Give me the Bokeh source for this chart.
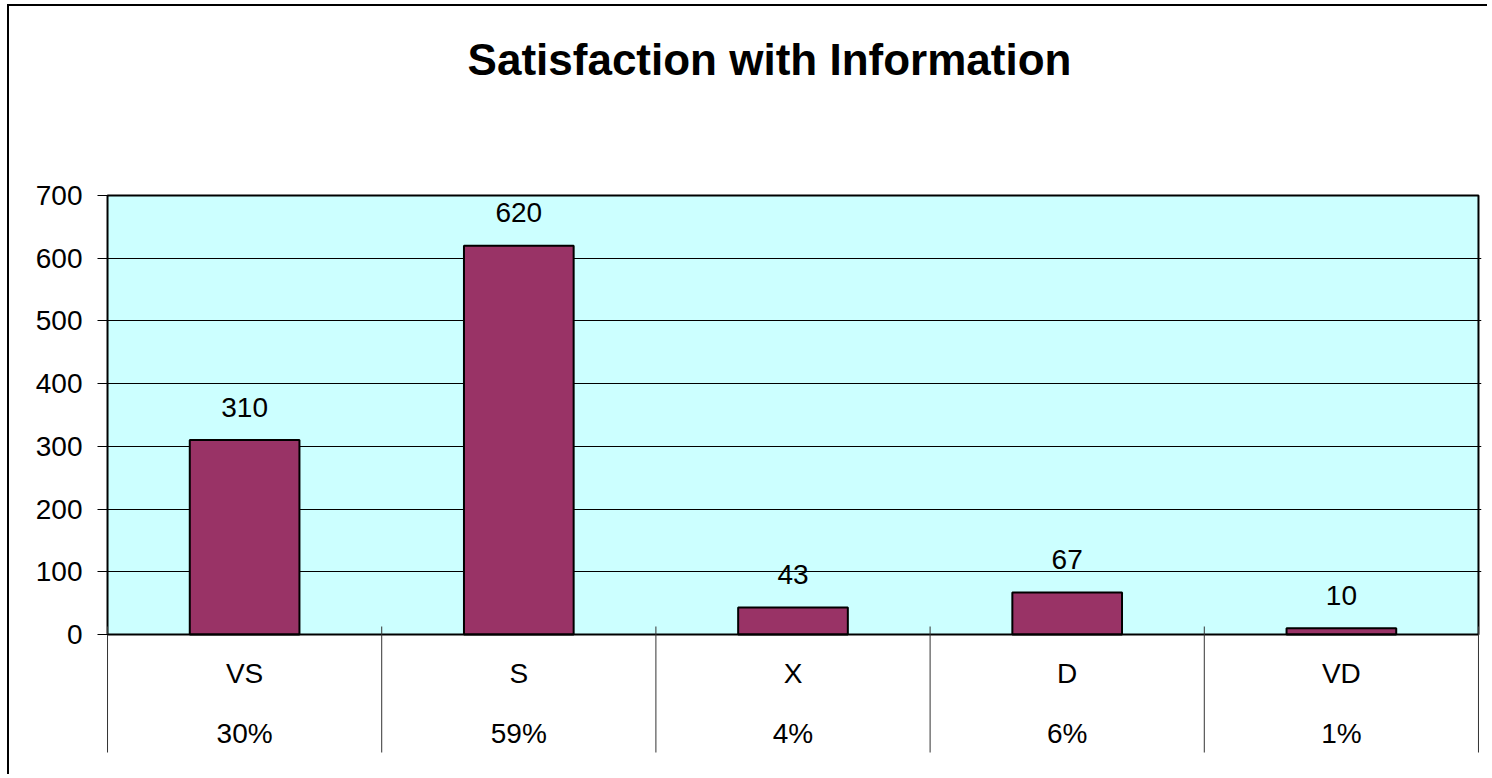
from bokeh.plotting import figure
from bokeh.models import Range1d, FixedTicker, ColumnDataSource
from bokeh.core.properties import value
from bokeh.embed import file_html
from bokeh.resources import INLINE

# ---- data ----
title_text = "Satisfaction with Information"
categories = ["VS", "S", "X", "D", "VD"]
counts = [310, 620, 43, 67, 10]
percent_labels = ["30%", "59%", "4%", "6%", "1%"]
y_ticks = [0, 100, 200, 300, 400, 500, 600, 700]

# ---- layout constants (pixels) ----
W, H = 1480, 770
FONT = "Liberation Sans"
plot_px = 439            # pixel height of 0..700
ppu = plot_px / 700.0    # pixels per data unit
top_px = 189             # space above the plot area (title region)
n = len(categories)
ymax = max(y_ticks)

centers = [i + 0.5 for i in range(n)]
bounds = list(range(n + 1))

p = figure(width=W, height=H, output_backend="svg", toolbar_location=None,
           x_range=Range1d(-0.011, n + 0.011),
           y_range=Range1d(-124 / ppu, ymax + top_px / ppu),
           min_border_left=95, min_border_right=8,
           min_border_top=0, min_border_bottom=18,
           background_fill_color="white", border_fill_color="white")
p.outline_line_color = None
p.title.visible = False
p.styles = {"margin-left": "7px", "margin-top": "4px",
            "border-left": "2px solid black", "border-top": "2px solid black"}

# plot-area background
p.quad(left=[0], right=[n], bottom=[0], top=[ymax],
       fill_color="#CCFFFF", line_color=None, level="image")

# axes
p.xaxis.visible = False
p.xgrid.visible = False
ya = p.yaxis[0]
ya.ticker = FixedTicker(ticks=y_ticks)
ya.axis_line_color = None
ya.major_tick_out = 7
ya.major_tick_in = 4
ya.major_tick_line_color = "black"
ya.minor_tick_line_color = None
ya.major_label_standoff = 15
ya.major_label_text_font = FONT
ya.major_label_text_font_size = "28px"
ya.major_label_text_color = "black"

p.ygrid.ticker = FixedTicker(ticks=y_ticks[1:-1])
p.ygrid.grid_line_color = "black"
p.ygrid.grid_line_width = 1

# title (placed above the plot area)
p.text(x=[n / 2], y=[ymax], text=[title_text], x_offset=-23.5, y_offset=-136,
       text_align="center", text_baseline="alphabetic",
       text_font=value(FONT), text_font_style="bold", text_font_size="44px",
       text_color="black")

# bars
src = ColumnDataSource(dict(x=centers, top=counts, lab=[str(c) for c in counts]))
p.vbar(x="x", top="top", bottom=0, width=0.4, source=src,
       fill_color="#993366", line_color="black", line_width=2)

# data labels
p.text(x="x", y="top", text="lab", source=src, y_offset=-33,
       text_align="center", text_baseline="middle",
       text_font=value(FONT), text_font_size="28px", text_color="black")

# plot-area border
p.quad(left=[0], right=[n], bottom=[0], top=[ymax],
       fill_color=None, line_color="black", line_width=2)

# category separators below the axis
p.segment(x0=bounds, x1=bounds, y0=[8 / ppu] * (n + 1), y1=[-118 / ppu] * (n + 1),
          line_color="#333333", line_width=1)

# category and percentage labels
p.text(x=centers, y=[0] * n, text=categories, y_offset=39,
       text_align="center", text_baseline="middle",
       text_font=value(FONT), text_font_size="28px", text_color="black")
p.text(x=centers, y=[0] * n, text=percent_labels, y_offset=99,
       text_align="center", text_baseline="middle",
       text_font=value(FONT), text_font_size="28px", text_color="black")

open("out.html", "w").write(file_html(p, INLINE))
